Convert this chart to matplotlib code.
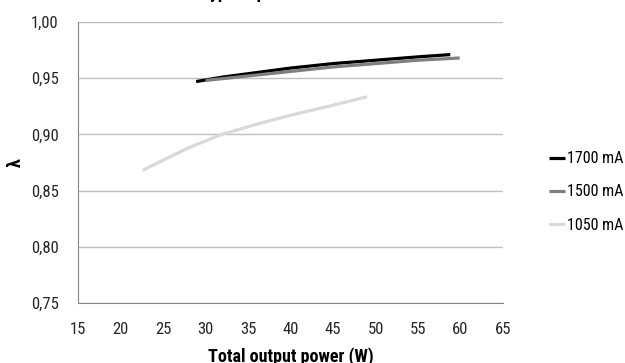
import matplotlib
matplotlib.use('Agg')
import matplotlib.pyplot as plt

# power (W) vs lambda for each drive current
p_1700 = [28.9, 32, 35, 40, 45, 50, 55, 58.8]
l_1700 = [0.947, 0.951, 0.954, 0.959, 0.963, 0.966, 0.969, 0.971]
p_1500 = [30.0, 35, 40, 45, 50, 55, 59.9]
l_1500 = [0.948, 0.952, 0.956, 0.960, 0.963, 0.966, 0.968]
p_1050 = [22.6, 25, 28, 31.9, 36, 40, 45, 49.0]
l_1050 = [0.868, 0.877, 0.888, 0.900, 0.909, 0.917, 0.926, 0.9335]

x_ticks = [15, 20, 25, 30, 35, 40, 45, 50, 55, 60, 65]
y_ticks = [0.75, 0.80, 0.85, 0.90, 0.95, 1.00]

plt.rcParams['font.family'] = ['Roboto Condensed', 'Roboto', 'DejaVu Sans']

fig = plt.figure(figsize=(6.25, 3.63), dpi=100)
ax = fig.add_axes([78/625, 1 - 303/363, 425/625, 281/363])

ax.plot(p_1700, l_1700, color='#000000', lw=2.3, label='1700 mA', solid_capstyle='butt')
ax.plot(p_1500, l_1500, color='#7f7f7f', lw=2.3, label='1500 mA', solid_capstyle='butt')
ax.plot(p_1050, l_1050, color='#d9d9d9', lw=2.3, label='1050 mA', solid_capstyle='butt')

ax.set_xlim(15, 65)
ax.set_ylim(0.75, 1.00)
ax.set_xticks(x_ticks)
ax.set_yticks(y_ticks)
ax.set_yticklabels([f'{v:.2f}'.replace('.', ',') for v in y_ticks])
ax.tick_params(length=0, labelsize=12, colors='#262626')
ax.tick_params(axis='y', pad=14)
ax.tick_params(axis='x', pad=14)
ax.grid(axis='y', color='#bfbfbf', lw=1)
ax.set_axisbelow(True)
for s in ['top', 'right']:
    ax.spines[s].set_visible(False)
for s in ['left', 'bottom']:
    ax.spines[s].set_color('#878787')

ax.set_xlabel('Total output power (W)', fontsize=13, fontweight='bold', labelpad=7)
ax.set_ylabel('λ', fontsize=13, fontweight='bold', rotation=90, labelpad=4)

fig.text(200/625, 1 + 2/363, 'Typical power factor', fontsize=13, fontweight='bold', ha='left', va='baseline')

ax.legend(loc='center left', bbox_to_anchor=(549/625, 1 - 192/363), bbox_transform=fig.transFigure,
          frameon=False, fontsize=11.5, handlelength=1.0, handletextpad=0.1, labelspacing=1.15,
          borderaxespad=0, borderpad=0)

fig.savefig('out.png', dpi=100)
